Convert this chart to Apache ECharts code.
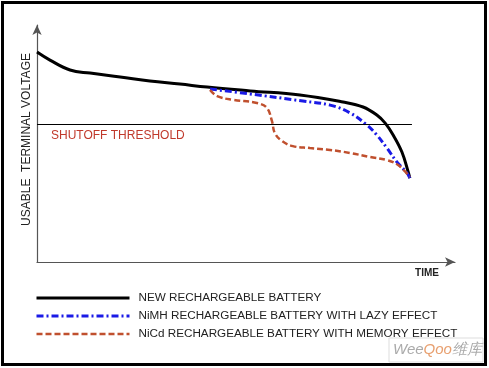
<!DOCTYPE html>
<html>
<head>
<meta charset="utf-8">
<script src="https://cdn.jsdelivr.net/npm/echarts@6/dist/echarts.min.js"></script>
<style>
html,body{margin:0;padding:0;background:#fff;}
#chart{width:489px;height:368px;}
</style>
</head>
<body>
<div id="chart"></div>
<script>
// Time (arbitrary units 0-100) and usable terminal voltage (arbitrary units 0-100)
const newTime = [0, 3.1, 7.9, 12.7, 19.9, 27.0, 34.2, 40.7, 51.0, 62.9, 73.2, 78.0, 81.3, 83.3, 85.2, 87.3, 88.8, 89.2];
const newVolt = [88.6, 85.2, 81.0, 79.7, 78.1, 76.4, 75.1, 73.8, 72.2, 70.5, 67.5, 65.4, 62.0, 58.6, 53.6, 46.4, 38.0, 35.4];

const nimhTime = [41.4, 51.0, 63.6, 70.1, 74.9, 78.9, 81.3, 83.7, 86.1, 88.5, 89.2];
const nimhVolt = [73.0, 70.9, 67.9, 66.2, 62.9, 57.8, 53.6, 48.1, 42.2, 37.6, 35.4];

const nicdTime = [41.4, 43.1, 46.9, 52.6, 55.0, 56.2, 56.9, 58.6, 61.2, 65.3, 70.1, 74.9, 79.7, 83.7, 86.4, 89.2];
const nicdVolt = [72.6, 70.0, 68.4, 67.1, 65.0, 59.5, 54.4, 51.1, 48.9, 48.1, 47.3, 46.0, 44.3, 43.0, 40.9, 35.9];

const thresholdVolt = 58.2;
const thresholdEnd = 89.7;

const seriesNames = [
  'NEW RECHARGEABLE BATTERY',
  'NiMH RECHARGEABLE BATTERY WITH LAZY EFFECT',
  'NiCd RECHARGEABLE BATTERY WITH MEMORY EFFECT'
];
const yAxisName = 'USABLE  TERMINAL VOLTAGE';
const xAxisName = 'TIME';
const thresholdLabel = 'SHUTOFF THRESHOLD';

const zip = (a, b) => a.map((v, i) => [v, b[i]]);
const FONT = 'Liberation Sans, Arial, sans-serif';

const styles = [
  { color: '#000', width: 3, type: 'solid' },
  { color: '#1a1ae6', width: 3, type: [7, 3, 2, 3] },
  { color: '#c0502e', width: 2.5, type: [6, 3] }
];

const chart = echarts.init(document.getElementById('chart'));
chart.setOption({
  animation: false,
  backgroundColor: '#fff',
  textStyle: { fontFamily: FONT },
  grid: { left: 37, top: 25, width: 418, height: 237 },
  xAxis: {
    type: 'value', min: 0, max: 100,
    axisLine: { show: true, symbol: ['none', 'arrow'], symbolSize: [7, 10], lineStyle: { color: '#555', width: 1.2 } },
    axisTick: { show: false }, axisLabel: { show: false }, splitLine: { show: false },
    name: xAxisName, nameLocation: 'end', nameGap: -28,
    nameTextStyle: { color: '#222', fontSize: 10, fontWeight: 'bold', align: 'center', verticalAlign: 'top', padding: [6, 0, 0, 0] }
  },
  yAxis: {
    type: 'value', min: 0, max: 100,
    axisLine: { show: true, symbol: ['none', 'arrow'], symbolSize: [7, 10], lineStyle: { color: '#555', width: 1.2 } },
    axisTick: { show: false }, axisLabel: { show: false }, splitLine: { show: false },
    name: yAxisName, nameLocation: 'middle', nameRotate: 90, nameGap: 4,
    nameTextStyle: { color: '#222', fontSize: 12, padding: [0, 0, 0, 8] }
  },
  legend: {
    data: seriesNames.map((n, i) => ({ name: n, lineStyle: styles[i] })),
    orient: 'vertical', left: 30, top: 287,
    itemWidth: 93, itemHeight: 12, itemGap: 6,
    itemStyle: { opacity: 0 },
    textStyle: { color: '#222', fontSize: 11.7, padding: [0, 0, 0, 4] },
    selectedMode: false
  },
  series: [
    {
      name: seriesNames[0], type: 'line', data: zip(newTime, newVolt),
      smooth: 0.4, symbol: 'none', z: 3,
      lineStyle: styles[0], itemStyle: { color: styles[0].color },
      markLine: {
        silent: true, symbol: 'none',
        lineStyle: { color: '#000', width: 1.2, type: 'solid' },
        label: { show: true, position: 'insideStartBottom', formatter: thresholdLabel, color: '#c0392b', fontSize: 12, distance: [14, 6] },
        data: [[{ coord: [0, thresholdVolt] }, { coord: [thresholdEnd, thresholdVolt] }]]
      }
    },
    {
      name: seriesNames[1], type: 'line', data: zip(nimhTime, nimhVolt),
      smooth: 0.4, symbol: 'none', z: 4,
      lineStyle: styles[1], itemStyle: { color: styles[1].color }
    },
    {
      name: seriesNames[2], type: 'line', data: zip(nicdTime, nicdVolt),
      smooth: 0.4, symbol: 'none', z: 5,
      lineStyle: styles[2], itemStyle: { color: styles[2].color }
    }
  ],
  graphic: [
    { type: 'rect', shape: { x: 2.5, y: 2.5, width: 483, height: 362 }, style: { fill: 'none', stroke: '#000', lineWidth: 3 }, silent: true },
    { type: 'rect', shape: { x: 389, y: 338, width: 94, height: 24 }, style: { fill: '#fff', stroke: '#ddd', lineWidth: 1 }, silent: true },
    { type: 'text', left: 393, top: 342, silent: true,
      style: { text: '{a|Wee}{b|Qoo}{a|维库}', rich: {
        a: { fontSize: 15, fontStyle: 'italic', fill: '#aaa', fontFamily: FONT },
        b: { fontSize: 15, fontStyle: 'italic', fill: '#e8a070', fontFamily: FONT }
      } } }
  ]
});
</script>
</body>
</html>
